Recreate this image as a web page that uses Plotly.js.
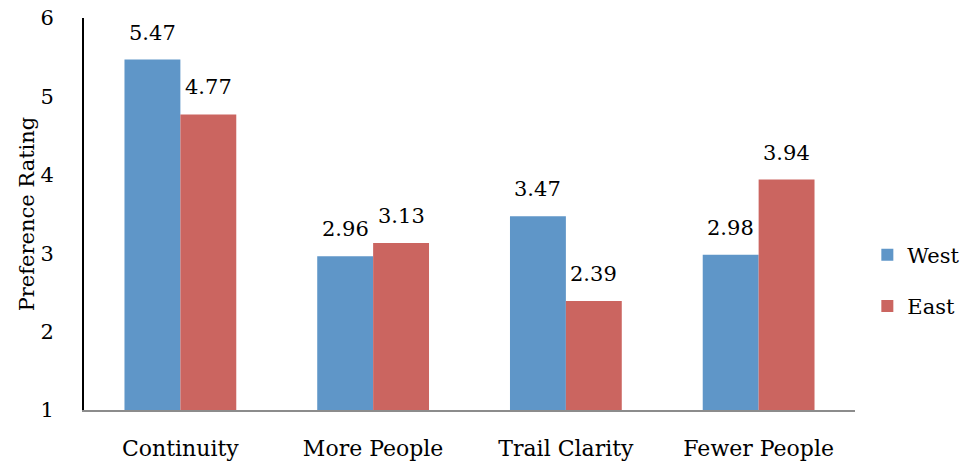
<!DOCTYPE html>
<html>
<head>
<meta charset="utf-8">
<script src="https://cdn.plot.ly/plotly-3.0.1.min.js"></script>
<style>
  html, body { margin: 0; padding: 0; background: #fff; }
  #chart { width: 964px; height: 462px; }
</style>
</head>
<body>
<div id="chart"></div>
<script>
// Preference ratings by trail attribute, West vs East
var categories = ['Continuity', 'More People', 'Trail Clarity', 'Fewer People'];
var westValues = [5.47, 2.96, 3.47, 2.98];
var eastValues = [4.77, 3.13, 2.39, 3.94];
var yTicks = [1, 2, 3, 4, 5, 6];

var FONT = '"DejaVu Serif", serif';
var BARGAP = 0.42;
var MARGIN = { l: 84, r: 109, t: 18, b: 52, autoexpand: false };

function series(name, values, color, group) {
  return {
    type: 'bar',
    name: name,
    x: categories,
    y: values,
    marker: { color: color, line: { width: 0 } },
    legendgroup: group,
    hoverinfo: 'x+y'
  };
}

var data = [
  series('West', westValues, '#5F96C8', 'w'),
  series('East', eastValues, '#CB6560', 'e')
];

// value labels above each bar, offset to the left/right half of the group
var plotW = 964 - MARGIN.l - MARGIN.r;
var barW = plotW / categories.length * (1 - BARGAP) / 2;
var annotations = [];
[westValues, eastValues].forEach(function (vals, s) {
  vals.forEach(function (v, i) {
    annotations.push({
      x: categories[i], y: v, xref: 'x', yref: 'y',
      text: v.toFixed(2), showarrow: false,
      xanchor: 'center', yanchor: 'bottom',
      xshift: (s === 0 ? -1 : 1) * barW / 2,
      yshift: 13,
      font: { family: FONT, size: 21, color: '#000' }
    });
  });
});

var layout = {
  width: 964,
  height: 462,
  margin: MARGIN,
  paper_bgcolor: '#fff',
  plot_bgcolor: '#fff',
  font: { family: FONT, size: 21, color: '#000' },
  barmode: 'group',
  bargap: BARGAP,
  bargroupgap: 0,
  showlegend: true,
  annotations: annotations,
  legend: {
    x: 1.016, y: 0.33, xanchor: 'left', yanchor: 'middle',
    font: { family: FONT, size: 21, color: '#000' },
    tracegroupgap: 21,
    itemwidth: 30,
    bgcolor: 'rgba(0,0,0,0)'
  },
  xaxis: {
    showline: true, linecolor: '#8c8c8c', linewidth: 1.5,
    ticks: '', showgrid: false, zeroline: false,
    ticklabelstandoff: 18,
    tickfont: { family: FONT, size: 22, color: '#000' }
  },
  yaxis: {
    range: [1, 6],
    tickvals: yTicks,
    ticktext: yTicks.map(String),
    showline: true, linecolor: '#000', linewidth: 2,
    ticks: '', showgrid: false, zeroline: false,
    ticklabelstandoff: 24,
    tickfont: { family: FONT, size: 21, color: '#000' },
    title: { text: 'Preference Rating', font: { family: FONT, size: 21, color: '#000' }, standoff: 0 }
  }
};

Plotly.newPlot('chart', data, layout, { displayModeBar: false, staticPlot: true });
</script>
</body>
</html>
